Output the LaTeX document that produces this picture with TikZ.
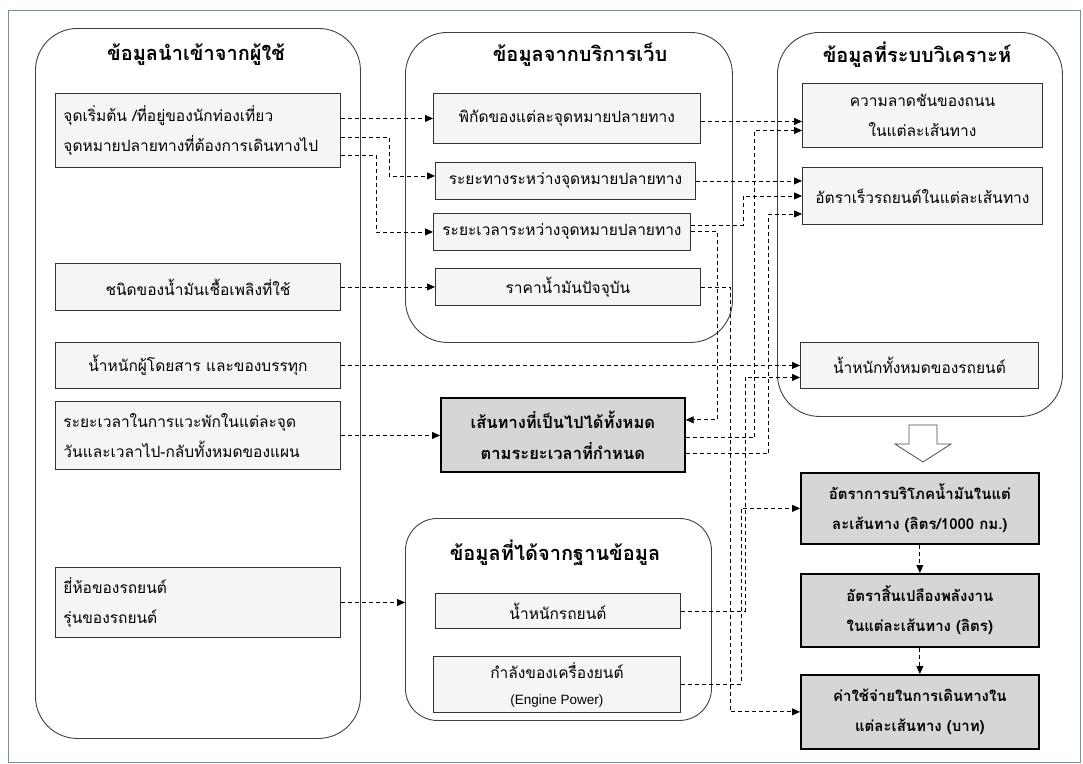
\documentclass[tikz,border=0pt]{standalone}
\usepackage{fontspec}
\setmainfont[Script=Thai]{Loma}
\newfontfamily\arialfont{Liberation Sans}
\usetikzlibrary{arrows.meta}
\begin{document}
\begin{tikzpicture}[x=1pt,y=-1pt,
  container/.style={draw=black!75, line width=0.9pt, rounded corners=42pt, anchor=north west, inner sep=0pt},
  title/.style={font=\fontsize{20}{23}\selectfont\bfseries},
  inbox/.style={draw=black!80, fill=black!4, line width=0.9pt, anchor=north west, inner sep=0pt, align=center, font=\fontsize{15.5}{30}\selectfont},
  leftbox/.style={inbox, inner xsep=8pt, text width=269pt, align=left},
  resbox/.style={draw=black, fill=black!16, line width=1.7pt, anchor=north west, inner sep=0pt, align=center, font=\fontsize{15}{30}\selectfont\bfseries},
  conn/.style={line width=0.8pt, dash pattern=on 4pt off 3pt, -{Triangle[length=8pt,width=7pt]}}
]
\useasboundingbox (0,0) rectangle (1083,763);
\draw[draw=black!35!cyan!30!gray, line width=0.8pt] (8,10) rectangle (1080,762);

% containers
\node[container, minimum width=325pt, minimum height=710pt] (C1) at (35,28) {};
\node[container, minimum width=327pt, minimum height=310pt] (C2) at (405,32) {};
\node[container, minimum width=285pt, minimum height=384pt] (C3) at (777,32) {};
\node[container, rounded corners=32pt, minimum width=306pt, minimum height=202pt] (C4) at (405,518) {};

\node[title] (T1) at (196,55) {ข้อมูลนำเข้าจากผู้ใช้};
\node[title] (T2) at (580,55) {ข้อมูลจากบริการเว็บ};
\node[title] (T3) at (917,55) {ข้อมูลที่ระบบวิเคราะห์};
\node[title] (T4) at (555,553) {ข้อมูลที่ได้จากฐานข้อมูล};

% left boxes
\node[leftbox, minimum height=74pt] (L1) at (55,93) {จุดเริ่มต้น /ที่อยู่ของนักท่องเที่ยว\\จุดหมายปลายทางที่ต้องการเดินทางไป};
\node[inbox, minimum width=285pt, minimum height=47pt] (L2) at (55,263) {ชนิดของน้ำมันเชื้อเพลิงที่ใช้};
\node[inbox, minimum width=285pt, minimum height=46pt] (L3) at (55,342) {น้ำหนักผู้โดยสาร และของบรรทุก};
\node[leftbox, minimum height=68pt] (L4) at (55,401) {ระยะเวลาในการแวะพักในแต่ละจุด\\วันและเวลาไป-กลับทั้งหมดของแผน};
\node[leftbox, minimum height=70pt] (L5) at (55,567) {ยี่ห้อของรถยนต์\\รุ่นของรถยนต์};

% web boxes
\node[inbox, minimum width=267pt, minimum height=50pt] (W1) at (433,93) {พิกัดของแต่ละจุดหมายปลายทาง};
\node[inbox, minimum width=260pt, minimum height=37pt] (W2) at (435,162) {ระยะทางระหว่างจุดหมายปลายทาง};
\node[inbox, minimum width=257pt, minimum height=37pt] (W3) at (433,213) {ระยะเวลาระหว่างจุดหมายปลายทาง};
\node[inbox, minimum width=265pt, minimum height=37pt] (W4) at (435,268) {ราคาน้ำมันปัจจุบัน};

% analysis boxes
\node[inbox, minimum width=240pt, minimum height=64pt] (A1) at (802,83) {ความลาดชันของถนน\\ในแต่ละเส้นทาง};
\node[inbox, minimum width=240pt, minimum height=57pt] (A2) at (802,167) {อัตราเร็วรถยนต์ในแต่ละเส้นทาง};
\node[inbox, minimum width=238pt, minimum height=46pt] (A3) at (800,342) {น้ำหนักทั้งหมดของรถยนต์};

% database boxes
\node[inbox, minimum width=245pt, minimum height=35pt] (D1) at (435,593) {น้ำหนักรถยนต์};
\node[inbox, minimum width=247pt, minimum height=56pt, font=\fontsize{15.5}{26}\selectfont] (D2) at (433,656) {กำลังของเครื่องยนต์\\{\arialfont\fontsize{13.5}{15}\selectfont (Engine Power)}};

% result boxes
\node[resbox, minimum width=244pt, minimum height=74pt, font=\fontsize{16.5}{31}\selectfont\bfseries] (R0) at (440,397) {เส้นทางที่เป็นไปได้ทั้งหมด\\ตามระยะเวลาที่กำหนด};
\node[resbox, minimum width=238pt, minimum height=71pt] (R1) at (800,472) {อัตราการบริโภคน้ำมันในแต่\\ละเส้นทาง (ลิตร/1000 กม.)};
\node[resbox, minimum width=238pt, minimum height=73pt] (R2) at (800,573) {อัตราสิ้นเปลืองพลังงาน\\ในแต่ละเส้นทาง (ลิตร)};
\node[resbox, minimum width=238pt, minimum height=74pt] (R3) at (800,674) {ค่าใช้จ่ายในการเดินทางใน\\แต่ละเส้นทาง (บาท)};

% big hollow arrow
\draw[fill=white, draw=black!70, line width=0.8pt] (909,425) -- (937,425) -- (937,444) -- (951,444) -- (923,462) -- (895,444) -- (909,444) -- cycle;

% connectors
\draw[conn] (L1.east |- W1.west) -- (W1.west);
\draw[conn] ([yshift=-7pt]L1.east) -- ++(48,0) |- ([yshift=5pt]W2.west);
\draw[conn] ([yshift=-25pt]L1.east) -- ++(35,0) |- (W3.west);
\draw[conn] (L2.east) -- (W4.west);
\draw[conn] (L3.east) -- (L3.east -| A3.west);
\draw[conn] (L4.east) -- (L4.east -| R0.west);
\draw[conn] (L5.east) -- (L5.east -| C4.west);

\draw[conn] ([yshift=-3pt]W1.east) -- ([yshift=-3pt]W1.east -| A1.west);
\draw[conn] (W2.east) -- (W2.east -| A2.west);
\draw[conn] ([yshift=7pt]W3.east) -- ++(52,0) |- (A2.west);
\draw[conn] ([yshift=1pt]W3.east) -- ++(26,0) |- ([yshift=15pt]R0.east);
\draw[conn] (W4.east) -- ++(29,0) |- (R3.west);
\draw[conn] ([yshift=-3pt]R0.east) -- ++(69,0) |- ([yshift=-15pt]A1.west);
\draw[conn] ([yshift=-19pt]R0.east) -- ++(83,0) |- ([yshift=-18pt]A2.west);
\draw[conn] (D1.east) -- ++(64,0) |- ([yshift=-12pt]A3.west);
\draw[conn] (D2.east) -- ++(60,0) |- (R1.west);
\draw[conn] (R1.south) -- (R2.north);
\draw[conn] (R2.south) -- (R3.north);
\end{tikzpicture}
\end{document}
